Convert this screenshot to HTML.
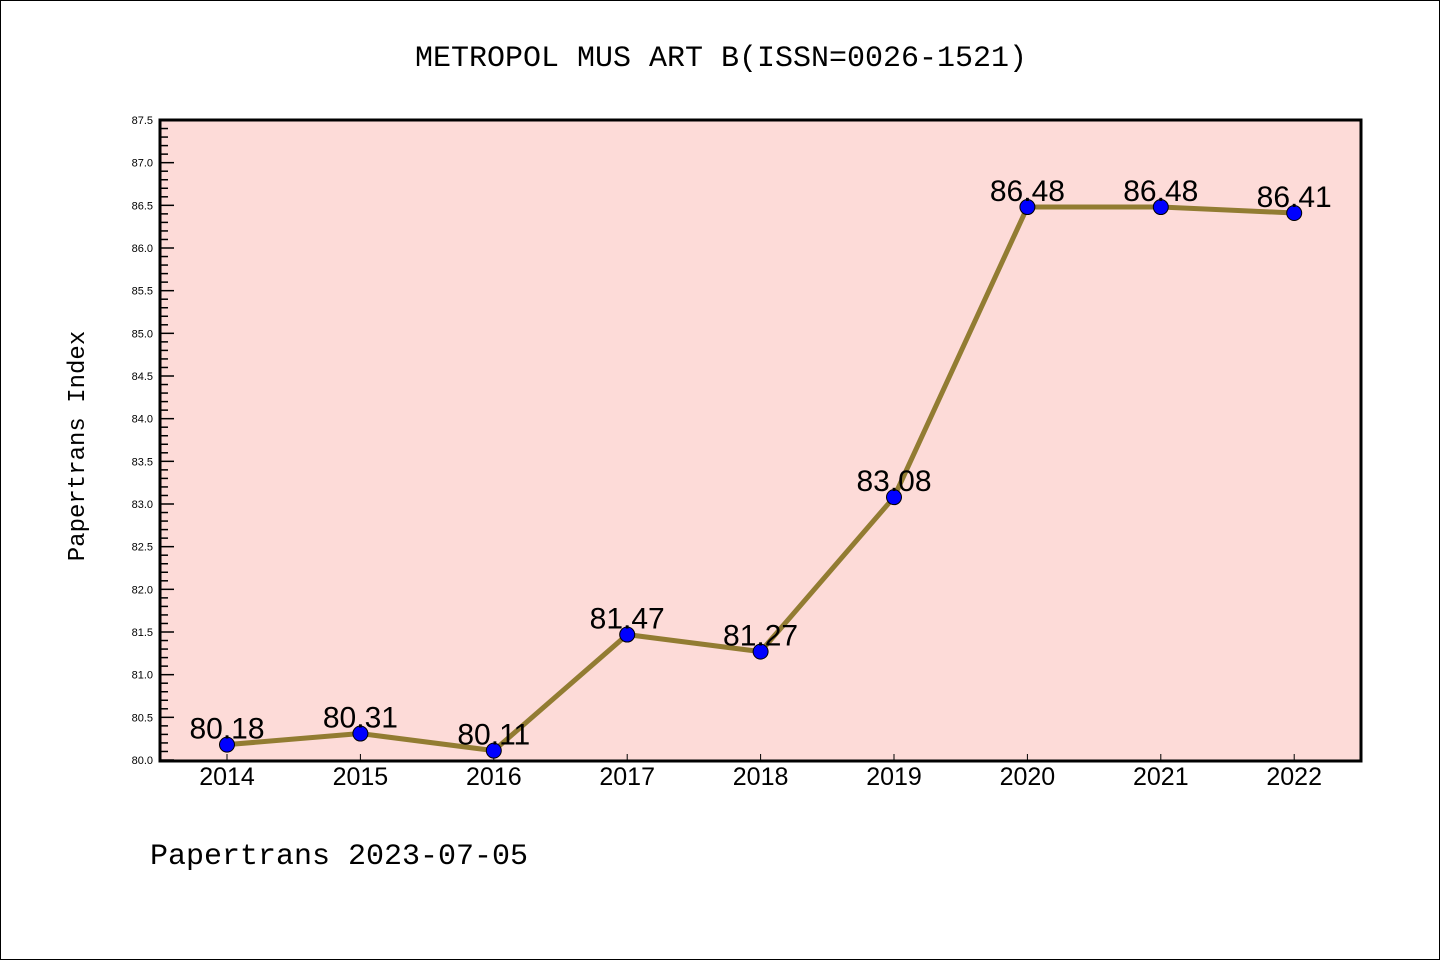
<!DOCTYPE html>
<html><head><meta charset="utf-8"><style>
html,body{margin:0;padding:0;background:#fff;}
svg{display:block;}
text{font-family:"WenQuanYi Zen Hei","Liberation Sans",sans-serif;}
</style></head><body>
<svg id="chart" width="1440" height="960" xmlns="http://www.w3.org/2000/svg">
<rect x="0.5" y="0.5" width="1439" height="959" fill="#fff" stroke="#000"/>
<text x="721" y="66" text-anchor="middle" font-size="30" style="font-family:'Liberation Mono',monospace">METROPOL MUS ART B(ISSN=0026-1521)</text>
<rect x="160" y="120" width="1201" height="641" fill="#fddbd8"/>
<g id="yaxis"></g>
<g id="xaxis"></g>
<g id="series"></g>
<rect x="160" y="120" width="1201" height="641" fill="none" stroke="#000" stroke-width="3"/>
<text transform="translate(84,446) rotate(-90)" text-anchor="middle" font-size="24" style="font-family:'Liberation Mono',monospace">Papertrans Index</text>
<text x="150" y="864" font-size="30" style="font-family:'Liberation Mono',monospace">Papertrans 2023-07-05</text>
</svg>
<script>
const years = [2014,2015,2016,2017,2018,2019,2020,2021,2022];
const values = [80.18,80.31,80.11,81.47,81.27,83.08,86.48,86.48,86.41];
const valueLabels = ["80.18","80.31","80.11","81.47","81.27","83.08","86.48","86.48","86.41"];
const yTicks = ["80.0","80.5","81.0","81.5","82.0","82.5","83.0","83.5","84.0","84.5","85.0","85.5","86.0","86.5","87.0","87.5"];
const NS="http://www.w3.org/2000/svg";
const yMin=80, yMax=87.5;
function yS(v){return 760-(v-yMin)/(yMax-yMin)*640;}
function xS(i){return 227+i*133.4;}
function mk(tag,attrs,parent){const e=document.createElementNS(NS,tag);for(const k in attrs)e.setAttribute(k,attrs[k]);parent.appendChild(e);return e;}
const ya=document.getElementById('yaxis'), xa=document.getElementById('xaxis'), sg=document.getElementById('series');
for(let k=0;k<=75;k++){
  const v=yMin+k*0.1, y=yS(v), major=(k%5===0);
  const t=mk('line',{x1:160,x2:160+(major?14:8),y1:y,y2:y,stroke:'#000','stroke-width':1.5},ya);
  
  
}
yTicks.forEach(s=>{
  const tx=mk('text',{x:153,y:yS(parseFloat(s))+4,'text-anchor':'end','font-size':11,style:"font-family:'Liberation Sans',sans-serif"},ya);
  tx.textContent=s;
  
  
});
years.forEach((yr,i)=>{
  const x=xS(i);
  const t=mk('line',{x1:x,x2:x,y1:760,y2:754,stroke:'#000','stroke-width':1},xa);
  
  
  const tx=mk('text',{x:x,y:785,'text-anchor':'middle','font-size':25},xa);
  tx.textContent=yr;
  
  
});
const pl=mk('polyline',{points:values.map((v,i)=>xS(i)+','+yS(v)).join(' '),fill:'none',stroke:'#927c32','stroke-width':5,'stroke-linejoin':'round'},sg);


values.forEach((v,i)=>{
  const c=mk('circle',{cx:xS(i),cy:yS(v),r:7.5,fill:'#0000ff',stroke:'#000','stroke-width':1},sg);
  
  
  const tx=mk('text',{x:xS(i),y:yS(v)-6,'text-anchor':'middle','font-size':30},sg);
  tx.textContent=valueLabels[i];
  
  
});
</script>
</body></html>
